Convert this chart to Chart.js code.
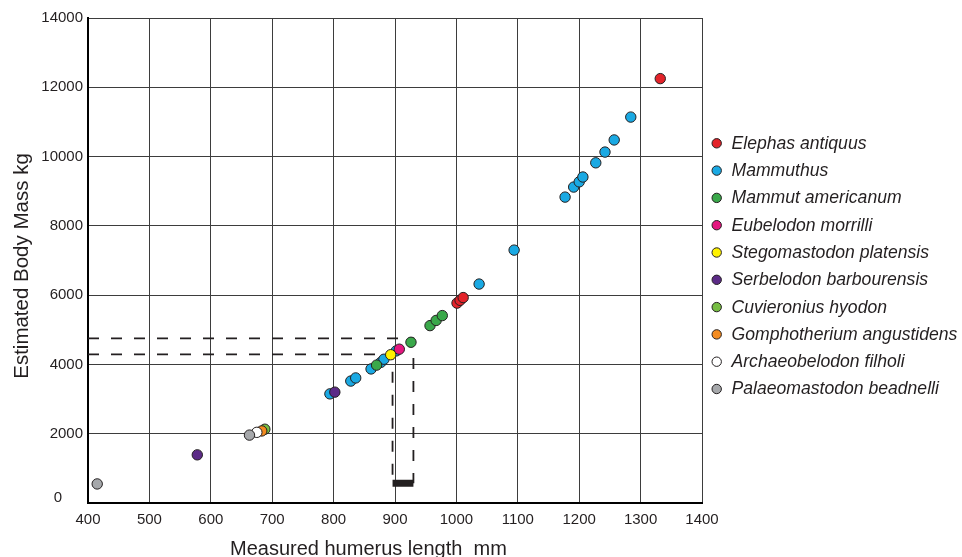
<!DOCTYPE html>
<html>
<head>
<meta charset="utf-8">
<script src="https://cdn.jsdelivr.net/npm/chart.js@4/dist/chart.umd.min.js"></script>
<style>
  html, body { margin: 0; padding: 0; background: #ffffff; }
  canvas { display: block; }
</style>
</head>
<body>
<canvas id="chart" width="962" height="557"></canvas>
<script>
// Humerus length (mm) against estimated body mass (kg), one list of [length, mass] per taxon
const elephasAntiquus        = [[1001, 5770], [1006, 5850], [1011, 5930], [1332, 12250]];
const mammuthus              = [[794, 3150], [828, 3520], [836, 3610], [861, 3870], [877, 4060], [882, 4150],
                                [902, 4390], [1037, 6320], [1094, 7300], [1177, 8830], [1191, 9120],
                                [1200, 9270], [1206, 9410], [1227, 9820], [1242, 10130], [1257, 10480],
                                [1284, 11140]];
const mammutAmericanum       = [[870, 3980], [926, 4640], [957, 5120], [967, 5270], [977, 5410]];
const eubelodonMorrilli      = [[907, 4440]];
const stegomastodonPlatensis = [[893, 4280]];
const serbelodonBarbourensis = [[578, 1390], [802, 3200]];
const cuvieroniusHyodon      = [[688, 2130]];
const gomphoteriumAngustidens = [[683, 2080]];
const archaeobelodonFilholi  = [[675, 2040]];
const palaeomastodonBeadnelli = [[415, 550], [663, 1960]];

const taxonNames = ['Elephas antiquus', 'Mammuthus', 'Mammut americanum', 'Eubelodon morrilli',
  'Stegomastodon platensis', 'Serbelodon barbourensis', 'Cuvieronius hyodon',
  'Gomphotherium angustidens', 'Archaeobelodon filholi', 'Palaeomastodon beadnelli'];
const taxonValues = [elephasAntiquus, mammuthus, mammutAmericanum, eubelodonMorrilli,
  stegomastodonPlatensis, serbelodonBarbourensis, cuvieroniusHyodon,
  gomphoteriumAngustidens, archaeobelodonFilholi, palaeomastodonBeadnelli];
const taxonColors = ['#e3232a', '#1aa9e3', '#3aa84a', '#e4167f', '#fff200',
  '#5c2b87', '#76bd43', '#f38b20', '#ffffff', '#a6a8ab'];

// Reading guides: mass levels traced across to the humerus range, and the range itself
const upperGuide = [[400, 4750], [930, 4750], [930, 570]];
const lowerGuide = [[400, 4290], [896, 4290], [896, 570]];
const lengthRange = [[896, 570], [930, 570]];

const xTicks = { min: 400, max: 1400, step: 100 };
const yTicks = { min: 0, max: 14000, step: 2000 };
const xTitle = 'Measured humerus length  mm';
const yTitle = 'Estimated Body Mass kg';

const ink = '#231f20';
const sans = '"Liberation Sans", Arial, Helvetica, sans-serif';
const toPoints = rows => rows.map(([x, y]) => ({ x, y }));

const taxonSets = taxonNames.map((name, i) => ({
  label: name,
  data: toPoints(taxonValues[i]),
  backgroundColor: taxonColors[i],
  borderColor: ink,
  borderWidth: 1,
  pointRadius: 5.2,
  pointHoverRadius: 5.2,
  order: taxonNames.length - i
}));

const guideStyle = {
  showLine: true, fill: false, pointRadius: 0, pointHoverRadius: 0,
  borderColor: ink, backgroundColor: ink, order: 100
};

const datasets = taxonSets.concat([
  Object.assign({ label: 'upper', data: toPoints(upperGuide), borderWidth: 1.8, borderDash: [11, 12] }, guideStyle),
  Object.assign({ label: 'lower', data: toPoints(lowerGuide), borderWidth: 1.8, borderDash: [11, 12] }, guideStyle),
  Object.assign({ label: 'range', data: toPoints(lengthRange), borderWidth: 7, borderCapStyle: 'butt' }, guideStyle)
]);

// Axis titles, the raised zero of the mass axis and the taxon key
const sideText = {
  id: 'sideText',
  afterDraw(chart) {
    const ctx = chart.ctx;
    const yScale = chart.scales.y;
    ctx.save();
    ctx.fillStyle = ink;

    ctx.font = '15px ' + sans;
    ctx.textAlign = 'center';
    ctx.textBaseline = 'middle';
    ctx.fillText(String(yTicks.min), 58, yScale.getPixelForValue(yTicks.min) - 5);

    ctx.font = '20px ' + sans;
    ctx.textAlign = 'left';
    ctx.textBaseline = 'alphabetic';
    ctx.fillText(xTitle, 230, 555);

    ctx.save();
    ctx.translate(27.5, 266);
    ctx.rotate(-Math.PI / 2);
    ctx.textAlign = 'center';
    ctx.font = '20.5px ' + sans;
    ctx.fillText(yTitle, 0, 0);
    ctx.restore();

    ctx.font = 'italic 17.6px ' + sans;
    ctx.textBaseline = 'middle';
    taxonNames.forEach((name, i) => {
      const cy = 143.3 + i * 27.3;
      ctx.beginPath();
      ctx.arc(716.7, cy, 4.7, 0, Math.PI * 2);
      ctx.fillStyle = taxonColors[i];
      ctx.fill();
      ctx.lineWidth = 1;
      ctx.strokeStyle = ink;
      ctx.stroke();
      ctx.fillStyle = ink;
      ctx.fillText(name, 731.5, cy + 0.5);
    });
    ctx.restore();
  }
};

const plainNumber = value => String(value);
const massLabel = value => (value === yTicks.min ? '' : String(value));

new Chart(document.getElementById('chart'), {
  type: 'scatter',
  data: { datasets },
  plugins: [sideText],
  options: {
    responsive: false,
    animation: false,
    layout: { padding: { top: 18, right: 260, bottom: 0, left: 0 } },
    plugins: { legend: { display: false }, tooltip: { enabled: false } },
    scales: {
      x: {
        type: 'linear',
        min: xTicks.min, max: xTicks.max,
        ticks: { stepSize: xTicks.step, color: ink, font: { family: sans, size: 15 }, padding: 8, maxRotation: 0, callback: plainNumber },
        grid: { color: '#3d3d3d', lineWidth: 1, drawTicks: false },
        border: { color: '#000000', width: 2 },
        afterFit(scale) { scale.height = 54; }
      },
      y: {
        type: 'linear',
        min: yTicks.min, max: yTicks.max,
        ticks: { stepSize: yTicks.step, color: ink, font: { family: sans, size: 15 }, padding: 5, callback: massLabel },
        grid: { color: '#3d3d3d', lineWidth: 1, drawTicks: false },
        border: { color: '#000000', width: 2 },
        afterFit(scale) { scale.width = 88; }
      }
    }
  }
});
</script>
</body>
</html>
